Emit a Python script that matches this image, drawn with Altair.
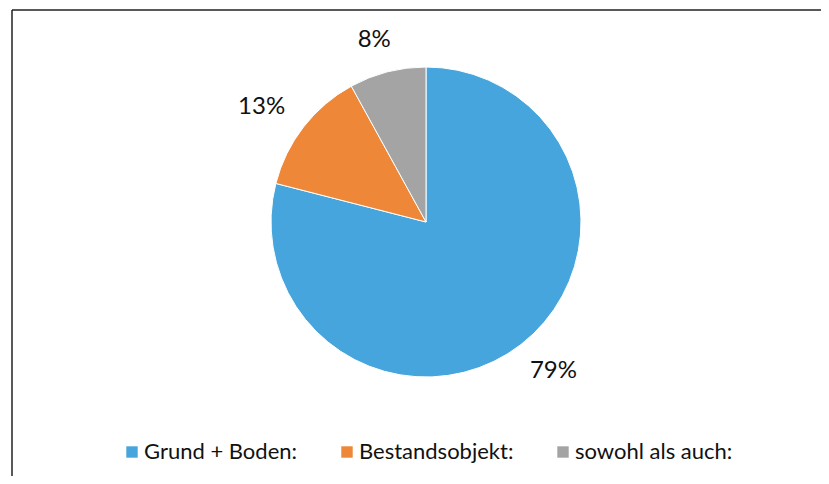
import altair as alt
import pandas as pd

categories = ["Grund + Boden:", "Bestandsobjekt:", "sowohl als auch:"]
shares = [79, 13, 8]
labels = ["79%", "13%", "8%"]
colors = ["#45A5DC", "#EE8737", "#A4A4A4"]
order = [0, 1, 2]

df = pd.DataFrame({"category": categories, "share": shares, "label": labels, "order": order})
one = pd.DataFrame({"a": [0]})

W, H = 813, 468
CX, CY, R = 418, 214, 155
RX, RY = 208, 188

border_top = alt.Chart(one).mark_rule(color="#222222", strokeWidth=1.5).encode(
    x=alt.value(4), x2=alt.value(W), y=alt.value(2)
)
border_left = alt.Chart(one).mark_rule(color="#222222", strokeWidth=1.5).encode(
    x=alt.value(4), y=alt.value(2), y2=alt.value(H)
)

pie = alt.Chart(df).mark_arc(outerRadius=R, stroke="white", strokeWidth=1).encode(
    theta=alt.Theta("share:Q", stack=True),
    color=alt.Color(
        "category:N",
        sort=categories,
        scale=alt.Scale(domain=categories, range=colors),
        legend=alt.Legend(
            orient="none", legendX=113, legendY=433, direction="horizontal",
            title=None, symbolType="square", symbolSize=130, symbolStrokeWidth=0,
            labelFont="Lato", labelFontSize=22, labelColor="#111111",
            labelOffset=1, columnPadding=38, padding=0, labelLimit=400,
            symbolOpacity=1,
        ),
    ),
    order=alt.Order("order:Q"),
    x=alt.value(CX),
    y=alt.value(CY),
)

text = alt.Chart(df).transform_window(
    cum="sum(share)", sort=[alt.SortField("order")], frame=[None, 0]
).transform_joinaggregate(total="sum(share)").transform_calculate(
    mid="(datum.cum - datum.share/2)/datum.total*2*PI",
    px=f"{CX} + {RX}*sin(datum.mid)",
    py=f"{CY} - {RY}*cos(datum.mid)",
).mark_text(font="Lato", fontSize=24, color="#111111").encode(
    x=alt.X("px:Q", scale=None),
    y=alt.Y("py:Q", scale=None),
    text="label:N",
)

chart = alt.layer(border_top, border_left, pie, text).properties(
    width=W, height=H, padding=0, autosize="none"
).configure_view(strokeWidth=0)

chart.save("out.html", embed_options={"renderer": "svg", "actions": False})
